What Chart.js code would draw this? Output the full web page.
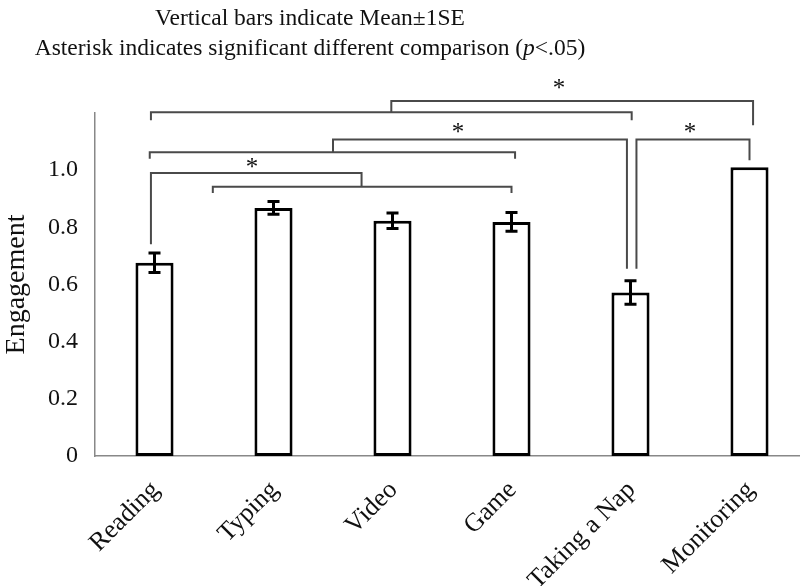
<!DOCTYPE html>
<html>
<head>
<meta charset="utf-8">
<script src="https://cdn.jsdelivr.net/npm/chart.js@4/dist/chart.umd.min.js"></script>
<style>
  html, body { margin: 0; padding: 0; background: #fff; overflow: hidden; }
  #wrap { width: 812px; height: 586px; position: relative; }
</style>
</head>
<body>
<div id="wrap"><canvas id="chart" width="812" height="586"></canvas></div>
<script>
const categories = ['Reading', 'Typing', 'Video', 'Game', 'Taking a Nap', 'Monitoring'];
const means = [0.676, 0.868, 0.823, 0.819, 0.572, 1.01];
const stdErrors = [0.034, 0.022, 0.027, 0.033, 0.041, 0];
const yTicks = [0, 0.2, 0.4, 0.6, 0.8, 1.0];
const titleLines = ['Vertical bars indicate Mean\u00b11SE', 'Asterisk indicates significant different comparison (p<.05)'];

// significance brackets: points are [category index, engagement]
const bracketLines = [
  // Reading..Nap vs Monitoring
  [[-0.03, 1.175], [-0.03, 1.203], [4.01, 1.203], [4.01, 1.175]],
  [[1.99, 1.203], [1.99, 1.242], [5.03, 1.242], [5.03, 1.157]],
  // Reading..Game vs Nap
  [[-0.04, 1.04], [-0.04, 1.063], [3.03, 1.063], [3.03, 1.04]],
  [[1.5, 1.063], [1.5, 1.107], [3.97, 1.107], [3.97, 0.655]],
  // Nap vs Monitoring
  [[4.05, 0.655], [4.05, 1.107], [5.0, 1.107], [5.0, 1.035]],
  // Reading vs Typing..Game
  [[-0.03, 0.741], [-0.03, 0.99], [1.74, 0.99], [1.74, 0.944]],
  [[0.49, 0.92], [0.49, 0.942], [3.0, 0.942], [3.0, 0.92]]
];
const asterisks = [[3.4, 1.30], [2.55, 1.145], [4.5, 1.145], [0.82, 1.025]];

const serif = "'Liberation Serif', 'DejaVu Serif', serif";
const ink = '#111';

const extras = {
  id: 'extras',
  afterDatasetsDraw(chart) {
    const ctx = chart.ctx;
    const x = chart.scales.x, y = chart.scales.y;
    ctx.save();
    // error bars
    ctx.strokeStyle = '#000';
    ctx.lineWidth = 3;
    means.forEach((m, i) => {
      if (!stdErrors[i]) return;
      const px = x.getPixelForValue(i);
      const t = y.getPixelForValue(m + stdErrors[i]);
      const b = y.getPixelForValue(m - stdErrors[i]);
      ctx.beginPath();
      ctx.moveTo(px, t); ctx.lineTo(px, b);
      ctx.moveTo(px - 6, t); ctx.lineTo(px + 6, t);
      ctx.moveTo(px - 6, b); ctx.lineTo(px + 6, b);
      ctx.stroke();
    });
    // brackets
    ctx.strokeStyle = '#4a4a4a';
    ctx.lineWidth = 2;
    bracketLines.forEach(pts => {
      ctx.beginPath();
      pts.forEach((p, k) => {
        const px = x.getPixelForValue(p[0]), py = y.getPixelForValue(p[1]);
        if (k === 0) ctx.moveTo(px, py); else ctx.lineTo(px, py);
      });
      ctx.stroke();
    });
    ctx.fillStyle = ink;
    ctx.font = '25px ' + serif;
    ctx.textAlign = 'center';
    ctx.textBaseline = 'middle';
    asterisks.forEach(a => {
      ctx.fillText('*', x.getPixelForValue(a[0]), y.getPixelForValue(a[1]) + 5);
    });
    // title
    const f = '23.5px ' + serif;
    ctx.font = f;
    ctx.fillText(titleLines[0], 310, 19);
    const pre = 'Asterisk indicates significant different comparison (';
    const post = '<.05)';
    const wPre = ctx.measureText(pre).width;
    const wPost = ctx.measureText(post).width;
    ctx.font = 'italic ' + f;
    const wP = ctx.measureText('p').width;
    let sx = 310 - (wPre + wP + wPost) / 2;
    ctx.textAlign = 'left';
    ctx.font = f;
    ctx.fillText(pre, sx, 49);
    ctx.font = 'italic ' + f;
    ctx.fillText('p', sx + wPre, 49);
    ctx.font = f;
    ctx.fillText(post, sx + wPre + wP, 49);
    ctx.restore();
  }
};

new Chart(document.getElementById('chart'), {
  type: 'bar',
  data: {
    labels: categories,
    datasets: [{
      data: means,
      backgroundColor: '#fff',
      borderColor: '#000',
      borderWidth: 3,
      borderSkipped: false,
      categoryPercentage: 1,
      barPercentage: 0.32
    }]
  },
  options: {
    responsive: false,
    animation: false,
    layout: { padding: { top: 113, right: 3, left: 0, bottom: 0 } },
    plugins: { legend: { display: false }, tooltip: { enabled: false }, title: { display: false } },
    scales: {
      x: {
        grid: { display: false, drawTicks: false },
        border: { color: '#888', width: 1.5 },
        ticks: {
          color: ink,
          font: { family: serif, size: 26 },
          maxRotation: 45, minRotation: 45,
          padding: 19,
          labelOffset: 1,
          autoSkip: false
        },
        afterFit(scale) { scale.height = 130; }
      },
      y: {
        min: 0, max: 1.2,
        afterBuildTicks(scale) { scale.ticks = yTicks.map(v => ({ value: v })); },
        grid: { display: false, drawTicks: false },
        border: { color: '#888', width: 1.5 },
        ticks: {
          color: ink,
          font: { family: serif, size: 24 },
          padding: 17,
          callback: v => v === 0 ? '0' : v.toFixed(1)
        },
        title: {
          display: true, text: 'Engagement', color: ink,
          font: { family: serif, size: 28 }, padding: { top: 0, bottom: 0 }
        },
        afterFit(scale) { scale.width = 95; }
      }
    }
  },
  plugins: [extras]
});
</script>
</body>
</html>
